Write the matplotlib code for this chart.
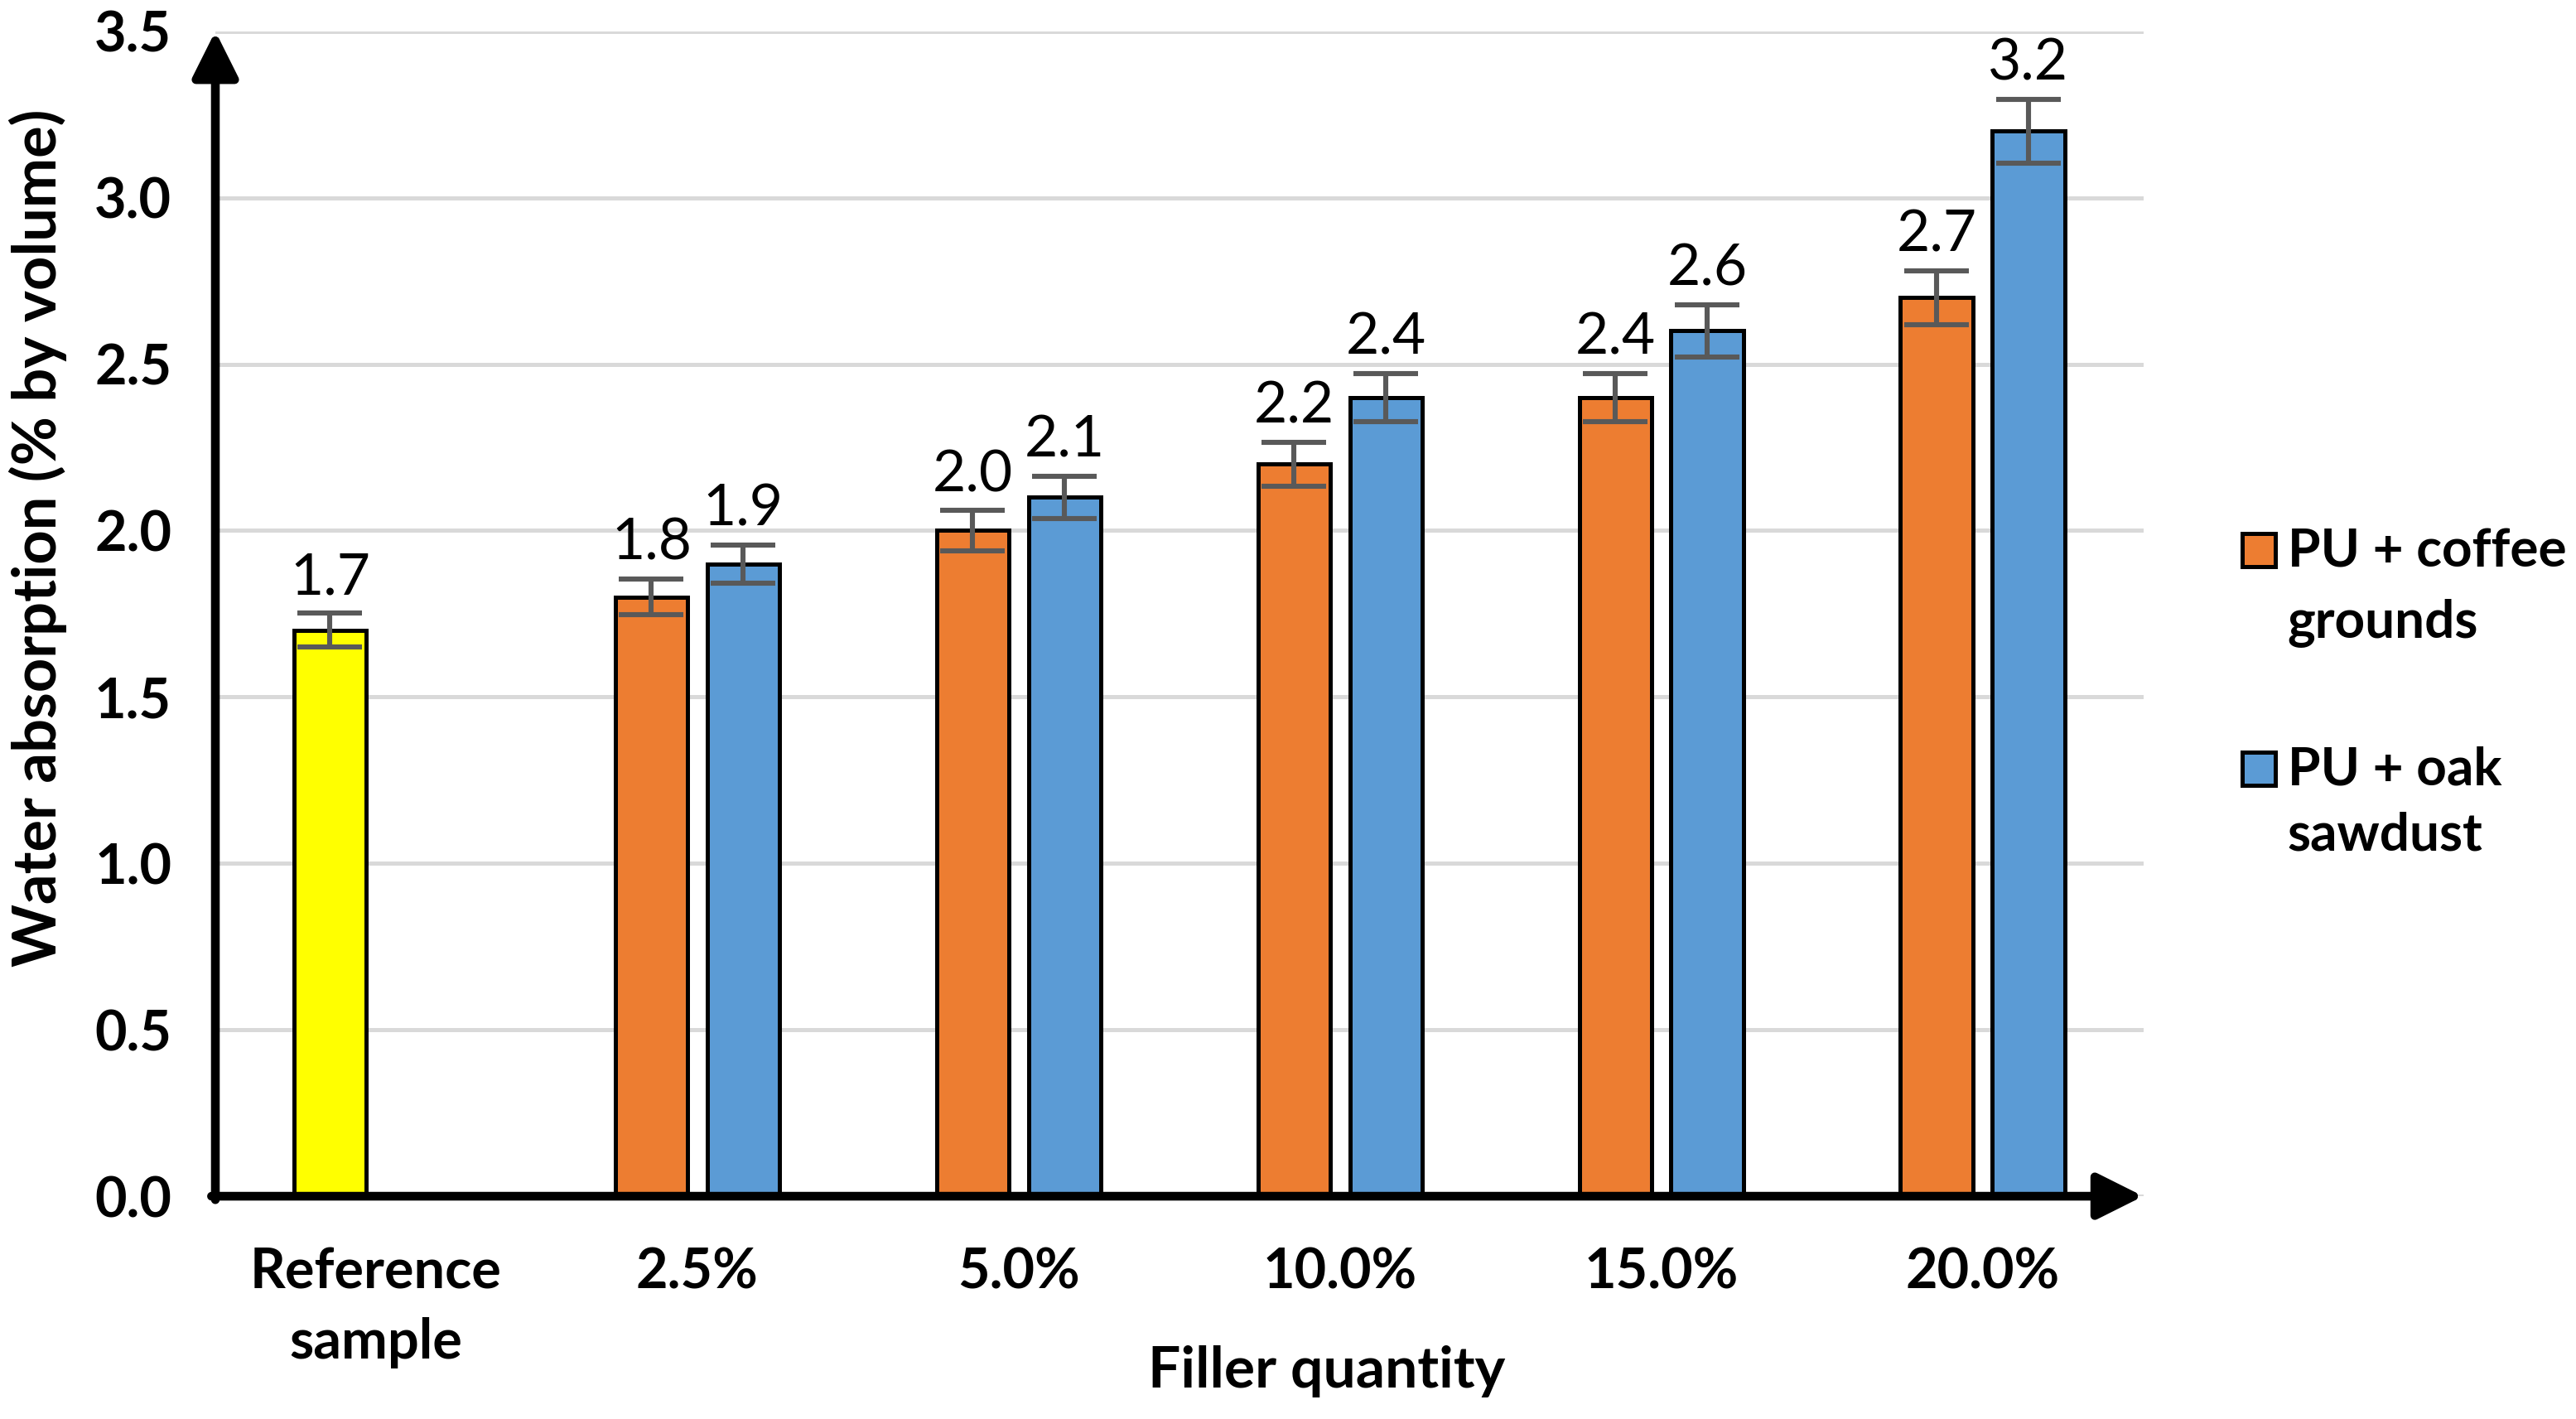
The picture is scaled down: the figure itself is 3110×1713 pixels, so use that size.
import numpy as np
import matplotlib
matplotlib.use('Agg')
import matplotlib.pyplot as plt
from matplotlib.patches import Rectangle

categories = ["Reference\nsample", "2.5%", "5.0%", "10.0%", "15.0%", "20.0%"]
ref_value = [1.7]
ref_err   = [0.051]
coffee    = [1.8, 2.0, 2.2, 2.4, 2.7]
coffee_err = [0.054, 0.060, 0.066, 0.072, 0.081]
oak       = [1.9, 2.1, 2.4, 2.6, 3.2]
oak_err   = [0.057, 0.063, 0.072, 0.078, 0.096]
legend_labels = [("PU + coffee", "grounds"), ("PU + oak", "sawdust")]
yticks = [0.0, 0.5, 1.0, 1.5, 2.0, 2.5, 3.0, 3.5]

YELLOW = "#FFFF00"
ORANGE = "#ED7D31"
BLUE   = "#5B9BD5"
ERRC   = "#595959"

FONT = "Lato"
BAR_W = 0.225
OFF   = 0.143

fig = plt.figure(figsize=(15.55, 8.565), dpi=200)
ax = fig.add_axes([0.0836, 0.157, 0.7484, 0.821])

x = np.arange(len(categories))
err_kw = dict(ecolor=ERRC, elinewidth=2.2, capsize=14, capthick=2.2)
bar_kw = dict(edgecolor="black", linewidth=1.8, zorder=3)

b_ref = ax.bar(x[:1] - OFF, ref_value, BAR_W, color=YELLOW,
               yerr=ref_err, error_kw=err_kw, **bar_kw)
b_cof = ax.bar(x[1:] - OFF, coffee, BAR_W, color=ORANGE,
               yerr=coffee_err, error_kw=err_kw, **bar_kw)
b_oak = ax.bar(x[1:] + OFF, oak, BAR_W, color=BLUE,
               yerr=oak_err, error_kw=err_kw, **bar_kw)

# value labels above the error bars
for xs, vals, errs in [(x[:1] - OFF, ref_value, ref_err),
                       (x[1:] - OFF, coffee, coffee_err),
                       (x[1:] + OFF, oak, oak_err)]:
    for xi, v, e in zip(xs, vals, errs):
        ax.annotate(f"{v:.1f}", (xi, v + e), xytext=(0, 4),
                    textcoords="offset points", ha="center", va="bottom",
                    fontsize=25, family=FONT, zorder=5)

ax.set_xlim(-0.5, 5.5)
ax.set_ylim(0, 3.5)
ax.set_yticks(yticks)
ax.set_yticklabels([f"{t:.1f}" for t in yticks], fontsize=24,
                   fontweight="bold", family=FONT)
ax.set_xticks(x)
ax.set_xticklabels(categories, fontsize=24, fontweight="bold",
                   family=FONT, linespacing=1.45)
ax.tick_params(axis="both", length=0)
ax.tick_params(axis="y", pad=19)
ax.tick_params(axis="x", pad=22)

ax.grid(axis="y", color="#d9d9d9", linewidth=1.8, zorder=0)
ax.set_axisbelow(True)
for s in ax.spines.values():
    s.set_visible(False)

# axis arrows
arrow = dict(arrowstyle="-|>", lw=3.8, color="black", mutation_scale=42,
             shrinkA=0, shrinkB=0)
ax.annotate("", xy=(1, 0), xytext=(-0.002, 0), xycoords="axes fraction",
            arrowprops=arrow, annotation_clip=False, zorder=6)
ax.annotate("", xy=(0, 1), xytext=(0, -0.003), xycoords="axes fraction",
            arrowprops=arrow, annotation_clip=False, zorder=6)

ax.set_ylabel("Water absorption (% by volume)", fontsize=26,
              fontweight="bold", family=FONT)
ax.yaxis.set_label_coords(-0.077, 0.565)
ax.set_xlabel("Filler quantity", fontsize=25, fontweight="bold", family=FONT)
ax.xaxis.set_label_coords(0.5765, -0.128)

# legend drawn by hand so the swatch sits on the first text line
sw_w, sw_h = 0.0129, 0.0234
for (l1, l2), col, y1, y2 in [(legend_labels[0], ORANGE, 0.6007, 0.5511),
                              (legend_labels[1], BLUE, 0.4466, 0.4005)]:
    fig.patches.append(Rectangle((0.8704, y1), sw_w, sw_h, facecolor=col,
                                 edgecolor="black", linewidth=1.8,
                                 transform=fig.transFigure))
    fig.text(0.888, y1, l1, fontsize=23, fontweight="bold", family=FONT,
             va="baseline", ha="left")
    fig.text(0.888, y2, l2, fontsize=23, fontweight="bold", family=FONT,
             va="baseline", ha="left")

fig.savefig("out.png", dpi=200)
plt.close()
